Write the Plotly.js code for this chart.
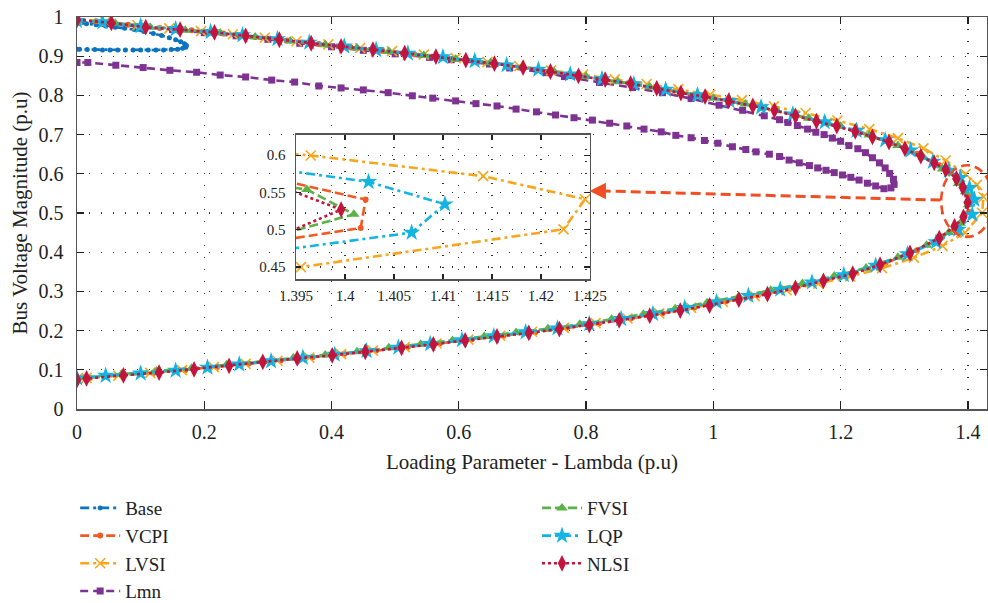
<!DOCTYPE html>
<html><head><meta charset="utf-8">
<script src="https://cdn.plot.ly/plotly-3.0.1.min.js"></script>
<style>html,body{margin:0;padding:0;background:#fff;} #chart{width:988px;height:603px;}</style>
</head><body><div id="chart"></div>
<script>
// ---- data ----
const baseX = [0,0.015,0.03,0.045,0.06,0.075,0.09,0.105,0.12,0.133,0.145,0.155,0.163,0.169,0.172,0.171,0.166,0.158,0.148,0.136,0.124,0.112,0.1,0.088,0.076,0.064,0.052,0.04,0.028,0.016,0.004,0];
const baseY = [0.985,0.983,0.980,0.977,0.974,0.971,0.968,0.963,0.958,0.953,0.947,0.942,0.937,0.932,0.927,0.923,0.920,0.918,0.917,0.916,0.916,0.916,0.916,0.916,0.916,0.916,0.916,0.916,0.917,0.917,0.918,0.918];

const vcpiX = [0,0.03,0.08,0.13,0.18,0.23,0.28,0.33,0.38,0.43,0.48,0.53,0.58,0.63,0.68,0.73,0.78,0.83,0.88,0.93,0.98,1.03,1.08,1.13,1.18,1.23,1.28,1.32,1.355,1.385,1.4021,1.4016,1.385,1.36,1.32,1.27,1.22,1.17,1.12,1.07,1.02,0.97,0.92,0.87,0.82,0.77,0.72,0.67,0.62,0.57,0.52,0.47,0.42,0.37,0.32,0.27,0.22,0.17,0.12,0.07,0.02,0];
const vcpiY = [0.994,0.989,0.980,0.972,0.966,0.958,0.949,0.940,0.931,0.923,0.914,0.905,0.896,0.886,0.876,0.864,0.852,0.840,0.827,0.813,0.799,0.784,0.768,0.749,0.728,0.705,0.678,0.651,0.622,0.592,0.5405,0.5024,0.469,0.440,0.405,0.372,0.346,0.326,0.307,0.290,0.275,0.259,0.244,0.231,0.218,0.207,0.196,0.187,0.177,0.167,0.158,0.149,0.140,0.132,0.124,0.116,0.107,0.099,0.092,0.086,0.079,0.077];

const lvsiX = [0,0.045,0.095,0.145,0.195,0.245,0.295,0.345,0.395,0.445,0.495,0.545,0.595,0.645,0.695,0.745,0.795,0.845,0.895,0.945,0.995,1.045,1.095,1.145,1.195,1.245,1.29,1.33,1.365,1.3965,1.4141,1.4245,1.4223,1.3955,1.36,1.315,1.265,1.215,1.165,1.115,1.065,1.015,0.965,0.915,0.865,0.815,0.765,0.715,0.665,0.615,0.565,0.515,0.465,0.415,0.365,0.315,0.265,0.215,0.165,0.115,0.065,0.015,0];
const lvsiY = [0.995,0.988,0.979,0.971,0.964,0.956,0.947,0.938,0.930,0.921,0.913,0.904,0.895,0.885,0.875,0.864,0.853,0.841,0.829,0.816,0.802,0.788,0.772,0.755,0.736,0.714,0.691,0.665,0.634,0.5996,0.5718,0.5409,0.5006,0.450,0.416,0.386,0.359,0.338,0.320,0.303,0.288,0.273,0.258,0.244,0.231,0.219,0.207,0.197,0.187,0.177,0.167,0.158,0.149,0.140,0.131,0.123,0.115,0.107,0.099,0.092,0.085,0.079,0.077];

const lmnX = [0,0.05,0.1,0.15,0.2,0.25,0.3,0.35,0.4,0.45,0.5,0.554,0.588,0.648,0.68,0.737,0.766,0.821,0.873,0.92,0.965,1.009,1.046,1.08,1.104,1.117,1.132,1.148,1.161,1.174,1.187,1.2,1.213,1.227,1.239,1.25,1.261,1.27,1.277,1.283,1.284,1.279,1.268,1.255,1.242,1.229,1.216,1.203,1.19,1.177,1.164,1.151,1.135,1.119,1.104,1.088,1.067,1.051,1.03,1.007,0.986,0.965,0.941,0.918,0.891,0.864,0.837,0.81,0.781,0.752,0.722,0.69,0.66,0.627,0.595,0.559,0.527,0.489,0.45,0.415,0.38,0.342,0.306,0.265,0.225,0.188,0.146,0.104,0.061,0.017,0];
const lmnY = [0.990,0.983,0.975,0.968,0.960,0.952,0.943,0.933,0.924,0.915,0.906,0.897,0.891,0.880,0.870,0.858,0.848,0.833,0.820,0.807,0.792,0.775,0.762,0.748,0.738,0.731,0.723,0.714,0.706,0.700,0.691,0.683,0.672,0.664,0.654,0.641,0.628,0.615,0.601,0.586,0.573,0.564,0.562,0.569,0.576,0.584,0.591,0.597,0.603,0.609,0.615,0.621,0.628,0.635,0.644,0.650,0.656,0.662,0.669,0.678,0.685,0.692,0.698,0.707,0.714,0.722,0.729,0.737,0.743,0.750,0.758,0.765,0.773,0.779,0.786,0.793,0.799,0.807,0.814,0.819,0.824,0.834,0.839,0.847,0.852,0.859,0.864,0.871,0.877,0.884,0.884];

const fvsiX = [0,0.06,0.115,0.17,0.225,0.28,0.335,0.39,0.44,0.49,0.545,0.595,0.65,0.7,0.75,0.8,0.85,0.9,0.95,1.0,1.05,1.1,1.15,1.2,1.245,1.29,1.33,1.36,1.385,1.3961,1.4009,1.388,1.37,1.335,1.29,1.24,1.19,1.14,1.09,1.04,0.99,0.94,0.89,0.84,0.79,0.74,0.69,0.64,0.59,0.54,0.49,0.44,0.39,0.34,0.29,0.235,0.18,0.125,0.07,0.015,0];
const fvsiY = [0.992,0.984,0.974,0.966,0.959,0.949,0.939,0.929,0.921,0.912,0.902,0.893,0.883,0.872,0.860,0.848,0.835,0.822,0.808,0.793,0.778,0.761,0.742,0.721,0.699,0.672,0.642,0.612,0.575,0.5539,0.5208,0.474,0.450,0.418,0.387,0.360,0.339,0.320,0.303,0.287,0.271,0.256,0.242,0.229,0.216,0.205,0.195,0.185,0.175,0.165,0.156,0.146,0.138,0.130,0.121,0.113,0.104,0.097,0.089,0.081,0.079];

const lqpX = [0,0.04,0.1,0.155,0.21,0.26,0.315,0.365,0.42,0.47,0.52,0.575,0.625,0.675,0.725,0.775,0.825,0.875,0.925,0.975,1.025,1.075,1.125,1.175,1.225,1.27,1.31,1.345,1.37,1.388,1.4024,1.4102,1.4068,1.385,1.35,1.305,1.255,1.205,1.155,1.105,1.055,1.005,0.955,0.905,0.855,0.805,0.755,0.705,0.655,0.605,0.555,0.505,0.455,0.405,0.355,0.305,0.255,0.205,0.155,0.1,0.045,0];
const lqpY = [0.990,0.987,0.977,0.969,0.962,0.954,0.944,0.935,0.925,0.916,0.907,0.898,0.888,0.877,0.866,0.854,0.842,0.829,0.815,0.801,0.786,0.770,0.752,0.732,0.710,0.686,0.660,0.631,0.608,0.590,0.5642,0.5342,0.4962,0.458,0.426,0.395,0.366,0.342,0.323,0.305,0.289,0.273,0.258,0.243,0.230,0.217,0.206,0.196,0.186,0.176,0.166,0.157,0.148,0.139,0.131,0.122,0.114,0.106,0.098,0.091,0.085,0.079];

const nlsiX = [0,0.054,0.108,0.162,0.216,0.265,0.318,0.368,0.415,0.465,0.515,0.564,0.611,0.656,0.701,0.744,0.788,0.83,0.87,0.911,0.949,0.987,1.024,1.062,1.096,1.129,1.162,1.194,1.223,1.25,1.276,1.301,1.326,1.347,1.365,1.382,1.392,1.3996,1.393,1.379,1.355,1.309,1.262,1.219,1.173,1.129,1.085,1.04,0.994,0.948,0.9,0.852,0.805,0.758,0.71,0.66,0.61,0.56,0.51,0.453,0.401,0.346,0.292,0.239,0.184,0.129,0.073,0.015,0];
const nlsiY = [0.993,0.985,0.974,0.968,0.961,0.952,0.942,0.933,0.925,0.917,0.908,0.899,0.890,0.881,0.871,0.861,0.850,0.840,0.830,0.818,0.806,0.797,0.786,0.773,0.762,0.748,0.734,0.722,0.708,0.694,0.681,0.664,0.645,0.628,0.611,0.588,0.565,0.527,0.490,0.466,0.436,0.398,0.368,0.345,0.327,0.309,0.293,0.279,0.264,0.251,0.238,0.226,0.214,0.204,0.194,0.185,0.175,0.165,0.156,0.146,0.137,0.129,0.120,0.110,0.101,0.093,0.086,0.078,0.074];

const xTickVals = [0,0.2,0.4,0.6,0.8,1,1.2,1.4];
const xTickText = ['0','0.2','0.4','0.6','0.8','1','1.2','1.4'];
const yTickVals = [0,0.1,0.2,0.3,0.4,0.5,0.6,0.7,0.8,0.9,1];
const yTickText = ['0','0.1','0.2','0.3','0.4','0.5','0.6','0.7','0.8','0.9','1'];
const insetXTickVals = [1.395,1.4,1.405,1.41,1.415,1.42,1.425];
const insetXTickText = ['1.395','1.4','1.405','1.41','1.415','1.42','1.425'];
const insetYTickVals = [0.45,0.5,0.55,0.6];
const insetYTickText = ['0.45','0.5','0.55','0.6'];

// ---- styling ----
const FONT = 'Liberation Serif, Times New Roman, serif';
const C = {base:'#0B74BE', vcpi:'#F15A24', lvsi:'#F9A61C', lmn:'#7E3392', fvsi:'#5BB247', lqp:'#12B4E4', nlsi:'#C2143C', arrow:'#F04E23'};

const series = [
  {name:'Base', x:baseX, y:baseY, color:C.base, dash:'9px,4px,3px,4px', sym:'circle', size:5, legend:'legend', rank:1, inset:false},
  {name:'Lmn', x:lmnX, y:lmnY, color:C.lmn, dash:'8px,5px', sym:'square', size:7, legend:'legend', rank:4, inset:false},
  {name:'VCPI', x:vcpiX, y:vcpiY, color:C.vcpi, dash:'9px,4px', sym:'circle', size:6, legend:'legend', rank:2, inset:true},
  {name:'LVSI', x:lvsiX, y:lvsiY, color:C.lvsi, dash:'9px,4px,3px,4px', sym:'x-thin-open', size:10, legend:'legend', rank:3, inset:true},
  {name:'FVSI', x:fvsiX, y:fvsiY, color:C.fvsi, dash:'9px,4px', sym:'triangle-up', size:10, legend:'legend2', rank:5, inset:true},
  {name:'LQP', x:lqpX, y:lqpY, color:C.lqp, dash:'9px,4px,3px,4px', sym:'star', size:13, legend:'legend2', rank:6, inset:true},
  {name:'NLSI', x:nlsiX, y:nlsiY, color:C.nlsi, dash:'3px,3px', sym:'diamond-tall', size:12, legend:'legend2', rank:7, inset:true}
];

function trace(s, xa, ya, show) {
  const m = {symbol:s.sym, size:s.size, color:s.color};
  if (s.sym === 'x-thin-open') m.line = {color:s.color, width:1.6};
  return {
    type:'scatter', mode:'lines+markers', name:s.name, x:s.x, y:s.y,
    xaxis:xa, yaxis:ya, showlegend:show, legend:s.legend, legendrank:s.rank,
    line:{color:s.color, width:2.6, dash:s.dash}, marker:m, cliponaxis:true
  };
}

const data = [];
series.forEach(s => data.push(trace(s, 'x', 'y', true)));
series.filter(s => s.inset).forEach(s => data.push(trace(s, 'x2', 'y2', false)));

const axisCommon = {
  showline:true, linecolor:'#555', linewidth:1.5, mirror:'allticks',
  ticks:'inside', tickcolor:'#222', tickwidth:1.2, zeroline:false, tickangle:0,
  showgrid:true, gridcolor:'#333', gridwidth:1.2, griddash:'1.2px,10.8px',
  tickfont:{family:FONT, size:20, color:'#222'}, automargin:false
};

const layout = {
  width:988, height:603,
  margin:{l:77, r:1, t:17, b:194, pad:0, autoexpand:false},
  paper_bgcolor:'#fff', plot_bgcolor:'rgba(0,0,0,0)',
  font:{family:FONT, color:'#222'},
  xaxis:Object.assign({}, axisCommon, {
    range:[0,1.43], tickmode:'array', tickvals:xTickVals, ticktext:xTickText, ticklen:7,
    ticklabelstandoff:4,
    title:{text:'Loading Parameter - Lambda (p.u)', font:{family:FONT, size:21, color:'#222'}, standoff:13}
  }),
  yaxis:Object.assign({}, axisCommon, {
    range:[0,1], tickmode:'array', tickvals:yTickVals, ticktext:yTickText, ticklen:7,
    ticklabelstandoff:8,
    title:{text:'Bus Voltage Magnitude (p.u)', font:{family:FONT, size:21, color:'#222'}, standoff:5}
  }),
  xaxis2:Object.assign({}, axisCommon, {
    domain:[0.2407,0.5637], anchor:'y2', range:[1.395,1.425],
    tickmode:'array', tickvals:insetXTickVals, ticktext:insetXTickText, ticklen:5,
    tickfont:{family:FONT, size:15, color:'#222'}, ticklabelstandoff:2
  }),
  yaxis2:Object.assign({}, axisCommon, {
    domain:[0.3316,0.699], anchor:'x2', range:[0.434,0.627],
    tickmode:'array', tickvals:insetYTickVals, ticktext:insetYTickText, ticklen:5,
    tickfont:{family:FONT, size:15, color:'#222'}, ticklabelstandoff:6
  }),
  legend:{xref:'paper', yref:'container', x:-0.002, y:0.189, xanchor:'left', yanchor:'top',
    bgcolor:'rgba(0,0,0,0)', font:{family:FONT, size:19, color:'#222'}, itemwidth:40, tracegroupgap:0},
  legend2:{xref:'paper', yref:'container', x:0.5055, y:0.189, xanchor:'left', yanchor:'top',
    bgcolor:'rgba(0,0,0,0)', font:{family:FONT, size:19, color:'#222'}, itemwidth:40, tracegroupgap:0},
  shapes:[
    {type:'circle', xref:'x', yref:'y', x0:1.358, x1:1.4396, y0:0.439, y1:0.622,
     line:{color:C.arrow, width:2.6, dash:'9px,5px'}},
    {type:'line', xref:'x', yref:'y', x0:1.357, y0:0.533, x1:0.83, y1:0.556,
     line:{color:C.arrow, width:3, dash:'10px,5px'}}
  ],
  annotations:[
    {x:0.8053, y:0.556, xref:'x', yref:'y', ax:0.832, ay:0.556, axref:'x', ayref:'y',
     text:'', showarrow:true, arrowhead:2, arrowsize:1.1, arrowwidth:3, arrowcolor:C.arrow}
  ]
};

Plotly.newPlot('chart', data, layout, {displayModeBar:false, staticPlot:true});
</script>
</body></html>
